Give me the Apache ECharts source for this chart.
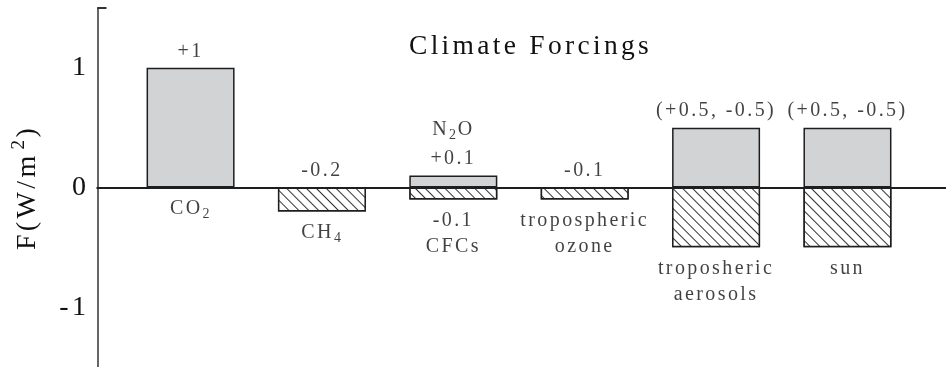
<!DOCTYPE html>
<html><head><meta charset="utf-8">
<script src="https://cdn.jsdelivr.net/npm/echarts@6/dist/echarts.min.js"></script>
<style>html,body{margin:0;padding:0;background:#fff}#c{width:946px;height:367px}</style>
</head><body><div id="c"></div>
<script>
// ---- data ----
const categories = ['CO2', 'CH4', 'N2O / CFCs', 'tropospheric ozone', 'troposheric aerosols', 'sun'];
const positiveValues = [1, null, 0.1, null, 0.5, 0.5];
const negativeValues = [null, -0.2, -0.1, -0.1, -0.5, -0.5];
const topLabels = ['+1', '-0.2', 'N{sub|2}O\n+0.1', '-0.1', '(+0.5, -0.5)', '(+0.5, -0.5)'];
const bottomLabels = ['CO{sub|2}', 'CH{sub|4}', '-0.1\nCFCs', 'tropospheric\nozone', 'troposheric\naerosols', 'sun'];
const yTickLabels = [-1, 0, 1];
const titleText = 'Climate Forcings';
const yAxisName = 'F(W/m{sup|2})';

const xMin = 0.29, xMax = 6.75, yMin = -1.5, yMax = 1.5;
const FONT = '"Liberation Serif", serif';
const INK = '#111';

// wide letter spacing like the reference typesetting (canvas letterSpacing)
(function () {
  const proto = CanvasRenderingContext2D.prototype;
  if (!('letterSpacing' in proto)) return;
  function apply(ctx) {
    const m = /(\d+(?:\.\d+)?)px/.exec(ctx.font);
    ctx.letterSpacing = m ? (parseFloat(m[1]) * 0.12).toFixed(2) + 'px' : '0px';
  }
  ['fillText', 'strokeText', 'measureText'].forEach(fn => {
    const orig = proto[fn];
    proto[fn] = function () { apply(this); return orig.apply(this, arguments); };
  });
})();

const posData = [], negData = [], topAnchors = [], bottomAnchors = [];
categories.forEach((c, i) => {
  const x = i + 1;
  if (positiveValues[i] != null) posData.push([x, positiveValues[i]]);
  if (negativeValues[i] != null) negData.push([x, negativeValues[i]]);
  topAnchors.push({ value: [x, Math.max(positiveValues[i] || 0, 0)], label: { formatter: topLabels[i] } });
  bottomAnchors.push({ value: [x, Math.min(negativeValues[i] || 0, 0)], label: { formatter: bottomLabels[i] } });
});

const labelRich = {
  sub: { fontSize: 14, fontFamily: FONT, color: INK, padding: [11, 0, 0, 0] }
};

const chart = echarts.init(document.getElementById('c'), null, { renderer: 'canvas' });
chart.setOption({
  animation: false,
  backgroundColor: '#fff',
  title: {
    text: titleText, left: 404, top: 26,
    textStyle: { fontFamily: FONT, fontWeight: 'normal', fontSize: 27.5, color: INK }
  },
  grid: { left: 96, right: 0, top: 8, height: 360 },
  xAxis: {
    type: 'value', min: xMin, max: xMax,
    axisLine: { onZero: true, lineStyle: { color: '#1e1e1e', width: 2 } },
    axisTick: { show: false }, axisLabel: { show: false }, splitLine: { show: false }
  },
  yAxis: {
    type: 'value', min: yMin, max: yMax, interval: 0.5,
    axisLine: { show: true, onZero: false, lineStyle: { color: '#333', width: 1.5 } },
    axisTick: { show: false }, splitLine: { show: false },
    axisLabel: {
      fontFamily: FONT, fontSize: 28, color: INK, margin: 8,
      formatter: v => (yTickLabels.indexOf(v) >= 0 ? String(v) : '')
    },
    name: yAxisName, nameLocation: 'middle', nameGap: 50, nameRotate: 90,
    nameTextStyle: {
      fontFamily: FONT, fontSize: 28, color: INK,
      rich: { sup: { fontSize: 19, fontFamily: FONT, color: INK, padding: [0, 0, 18, 3] } }
    }
  },
  series: [
    {
      type: 'bar', data: posData, barWidth: 88, barGap: '-100%',
      itemStyle: { color: '#d1d3d4', borderColor: '#1e1e1e', borderWidth: 1.5 },
      markLine: {
        silent: true, symbol: 'none', label: { show: false },
        lineStyle: { color: '#333', width: 2, type: 'solid' },
        data: [[{ coord: [xMin, yMax] }, { coord: [xMin + 0.07, yMax] }]]
      }
    },
    {
      type: 'bar', data: negData, barWidth: 88, barGap: '-100%',
      itemStyle: {
        color: '#fff', borderColor: '#1e1e1e', borderWidth: 1.5,
        decal: { symbol: 'rect', dashArrayX: [1, 0], dashArrayY: [1, 6], rotation: Math.PI / 4, color: '#333', backgroundColor: '#fff' }
      }
    },
    {
      type: 'scatter', data: topAnchors, symbolSize: 0, silent: true,
      itemStyle: { color: 'rgba(0,0,0,0)' },
      label: { show: true, position: 'top', distance: 2, fontFamily: FONT, fontSize: 20, color: INK, lineHeight: 29, rich: labelRich }
    },
    {
      type: 'scatter', data: bottomAnchors, symbolSize: 0, silent: true,
      itemStyle: { color: 'rgba(0,0,0,0)' },
      label: { show: true, position: 'bottom', distance: 8, fontFamily: FONT, fontSize: 20, color: INK, lineHeight: 26, rich: labelRich }
    }
  ]
});
</script></body></html>
